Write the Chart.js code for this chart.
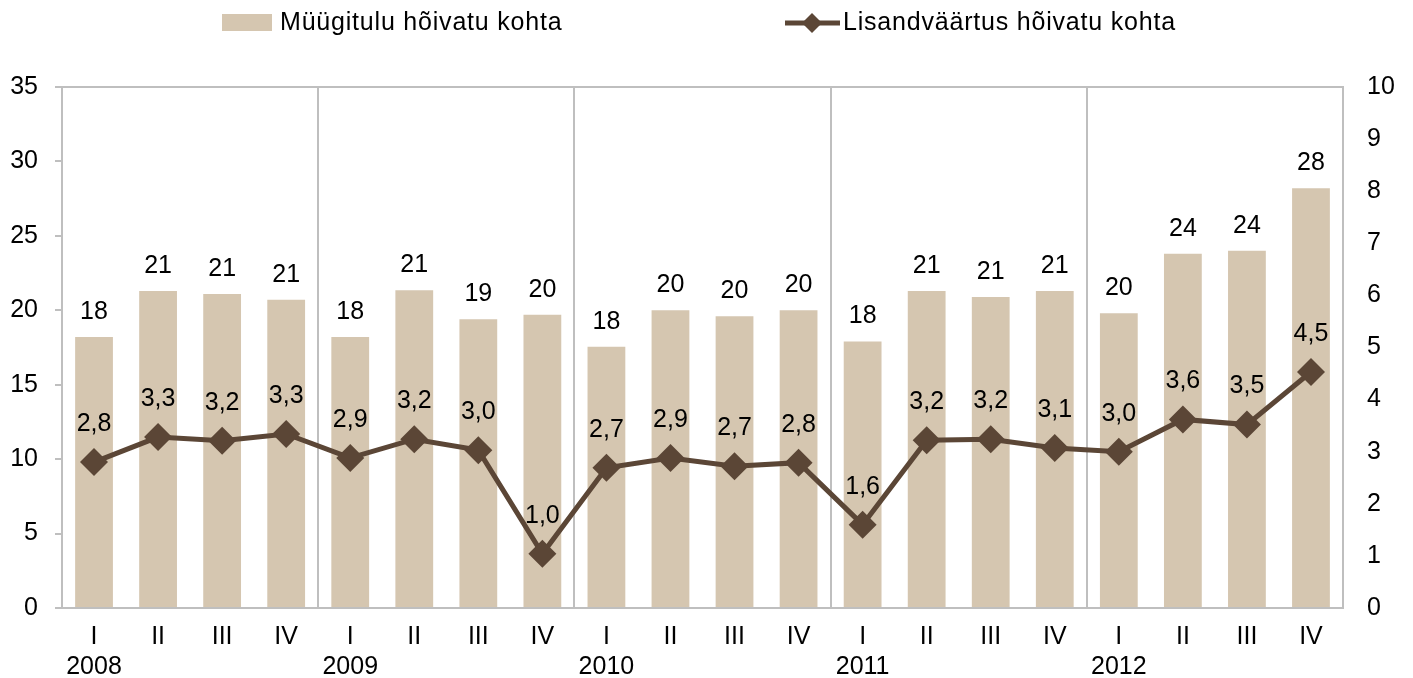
<!DOCTYPE html>
<html><head><meta charset="utf-8">
<script src="https://cdn.jsdelivr.net/npm/chart.js@4.4.1/dist/chart.umd.min.js"></script>
<style>html,body{margin:0;padding:0;background:#fff;}#wrap{width:1413px;height:678px;position:relative}</style>
</head><body><div id="wrap"><canvas id="c" width="1413" height="678"></canvas></div>
<script>
const quarters = ['I','II','III','IV'];
const years = ['2008','2009','2010','2011','2012'];
const salesPerEmployed = [18.2,21.3,21.1,20.7, 18.2,21.35,19.4,19.7, 17.55,20.0,19.6,20.0, 17.9,21.3,20.9,21.3, 19.8,23.8,24.0,28.2];
const valueAddedPerEmployed = [2.8,3.28,3.21,3.34, 2.88,3.24,3.03,1.04, 2.69,2.88,2.72,2.79, 1.6,3.22,3.24,3.07, 3.0,3.62,3.52,4.53];
const seriesNames = ['Müügitulu hõivatu kohta','Lisandväärtus hõivatu kohta'];

const FONT = "'Liberation Sans', Arial, sans-serif";
const FS = 25;
const BAR = '#d5c6b0';
const LINE = '#5b4636';
const GRID = '#bfbfbf';

const labels = [];
years.forEach(y => quarters.forEach((q,i) => labels.push([q, i===0 ? y : ''])));

const framePlugin = {
  id:'frame',
  beforeDatasetsDraw(chart){
    const {ctx, chartArea:a, scales:{x}} = chart;
    ctx.save();
    ctx.strokeStyle = GRID; ctx.lineWidth = 2;
    ctx.strokeRect(a.left, a.top, a.right-a.left, a.bottom-a.top);
    for(let i=4;i<labels.length;i+=4){
      const xx = Math.round((x.getPixelForValue(i-1)+x.getPixelForValue(i))/2);
      ctx.beginPath(); ctx.moveTo(xx, a.top); ctx.lineTo(xx, a.bottom); ctx.stroke();
    }
    ctx.restore();
  },
  afterDatasetsDraw(chart){
    const {ctx} = chart;
    ctx.save();
    ctx.font = FS+'px '+FONT; ctx.fillStyle='#000'; ctx.textAlign='center'; ctx.textBaseline='middle';
    chart.getDatasetMeta(0).data.forEach((b,i)=>{
      ctx.fillText(String(Math.round(salesPerEmployed[i])), b.x, b.y-25);
    });
    chart.getDatasetMeta(1).data.forEach((p,i)=>{
      ctx.fillText(valueAddedPerEmployed[i].toFixed(1).replace('.',','), p.x, p.y-38);
    });
    ctx.restore();
  },
  afterDraw(chart){
    const {ctx} = chart;
    ctx.save();
    ctx.font = FS+'px '+FONT; ctx.fillStyle='#000'; ctx.textAlign='left'; ctx.textBaseline='middle';
    try { ctx.letterSpacing = '0.8px'; } catch(e) {}
    ctx.fillStyle = BAR; ctx.fillRect(222,14,50,17);
    ctx.fillStyle='#000'; ctx.fillText(seriesNames[0], 280, 23);
    ctx.strokeStyle = LINE; ctx.lineWidth=5;
    ctx.beginPath(); ctx.moveTo(785,23); ctx.lineTo(840,23); ctx.stroke();
    ctx.fillStyle = LINE; ctx.beginPath();
    ctx.moveTo(812,13); ctx.lineTo(822,23); ctx.lineTo(812,33); ctx.lineTo(802,23); ctx.closePath(); ctx.fill();
    ctx.fillStyle='#000'; ctx.fillText(seriesNames[1], 843, 23);
    ctx.restore();
  }
};

new Chart(document.getElementById('c'), {
  data:{
    labels,
    datasets:[
      {type:'bar', label:seriesNames[0], data:salesPerEmployed, backgroundColor:BAR, barPercentage:0.59, categoryPercentage:1, yAxisID:'y', order:2},
      {type:'line', label:seriesNames[1], data:valueAddedPerEmployed, borderColor:LINE, borderWidth:5, pointStyle:'rectRot', pointRadius:14, pointHoverRadius:14, pointBackgroundColor:LINE, pointBorderWidth:0, yAxisID:'y1', order:1, tension:0}
    ]
  },
  options:{
    responsive:false, animation:false, devicePixelRatio:1,
    layout:{padding:{top:87,left:0,right:0,bottom:0}},
    plugins:{legend:{display:false}, tooltip:{enabled:false}},
    scales:{
      x:{offset:true, grid:{display:false}, border:{display:false},
         ticks:{font:{family:FONT,size:FS}, color:'#000', maxRotation:0, autoSkip:false, padding:6},
         afterFit(s){s.height=70;}},
      y:{position:'left', min:0, max:35, grid:{drawOnChartArea:false, tickLength:7, color:GRID, lineWidth:2}, border:{display:false},
         ticks:{stepSize:5, font:{family:FONT,size:FS}, color:'#000', padding:17},
         afterFit(s){s.width=62;}},
      y1:{position:'right', min:0, max:10, grid:{display:false}, border:{display:false},
         ticks:{stepSize:1, font:{family:FONT,size:FS}, color:'#000', padding:16},
         afterFit(s){s.width=70;}}
    }
  },
  plugins:[framePlugin]
});
</script></body></html>
